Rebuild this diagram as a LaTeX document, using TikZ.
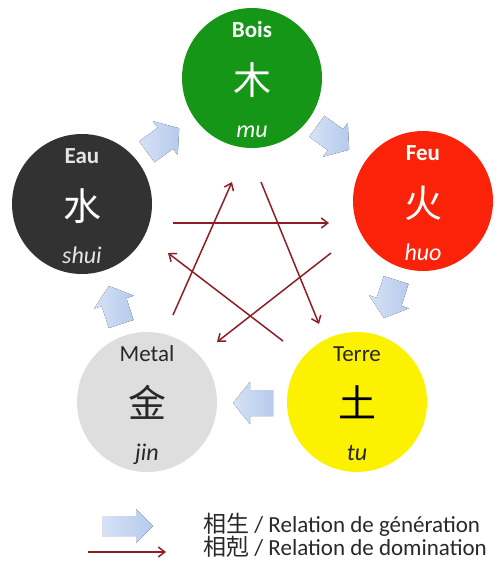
\documentclass[tikz,border=0pt]{standalone}
\usepackage{fontspec}
\setmainfont{Carlito}
\newfontfamily\cjk{Noto Sans CJK SC}
\usetikzlibrary{arrows.meta}
\definecolor{boisc}{RGB}{22,150,22}
\definecolor{feuc}{RGB}{250,35,10}
\definecolor{eauc}{RGB}{50,50,50}
\definecolor{metalc}{RGB}{222,222,222}
\definecolor{terrec}{RGB}{252,242,0}
\definecolor{domc}{RGB}{140,30,38}
\definecolor{genl}{RGB}{214,226,246}
\definecolor{gend}{RGB}{182,202,236}
\definecolor{lighttxt}{RGB}{228,228,228}
\definecolor{darktxt}{RGB}{40,40,40}
\tikzset{
  elem/.style={circle, minimum size=140pt, inner sep=0pt},
  lbl/.style={anchor=base, inner sep=0pt, font=\fontsize{23}{26}\selectfont},
  lblb/.style={lbl, font=\fontsize{23}{26}\selectfont\bfseries},
  hanzi/.style={inner sep=0pt, font=\cjk\fontsize{38}{42}\selectfont},
  pinyin/.style={anchor=base, inner sep=0pt, font=\fontsize{24}{26}\selectfont\itshape},
  dom/.style={draw=domc, line width=1.5pt, -{Straight Barb[length=6.5pt,width=10pt]}},
  gen/.style={left color=genl, right color=gend, draw=none},
  legtxt/.style={anchor=west, inner sep=0pt, text=darktxt, font=\fontsize{23}{25}\selectfont},
  genarrow/.pic={\fill[gen] (-20,-13) -- (3,-13) -- (3,-21) -- (20,0) -- (3,21) -- (3,13) -- (-20,13) -- cycle;}
}
\begin{document}
\begin{tikzpicture}[x=1pt,y=-1pt]
\useasboundingbox (0,0) rectangle (498,573);
% elements
\node[elem, fill=boisc] (bois) at (252,78) {};
\node[elem, fill=feuc] (feu) at (423,201) {};
\node[elem, fill=eauc] (eau) at (82,204) {};
\node[elem, fill=metalc] (metal) at (147,402) {};
\node[elem, fill=terrec] (terre) at (357,402) {};
% Bois
\node[lblb, text=white] (boisl) at (252,37) {Bois};
\node[hanzi, text=white] (boish) at (252,80) {木};
\node[pinyin, text=white] (boisp) at (252,137) {mu};
% Feu
\node[lblb, text=white] (feul) at (423,160) {Feu};
\node[hanzi, text=white] (feuh) at (423,203) {火};
\node[pinyin, text=white] (feup) at (423,260) {huo};
% Eau
\node[lblb, text=lighttxt] (eaul) at (82,163) {Eau};
\node[hanzi, text=white] (eauh) at (82,206) {水};
\node[pinyin, text=lighttxt] (eaup) at (82,263) {shui};
% Metal
\node[lbl, text=darktxt] (metall) at (147,361) {Metal};
\node[hanzi, text=darktxt] (metalh) at (147,402) {金};
\node[pinyin, text=darktxt] (metalp) at (147,460) {jin};
% Terre
\node[lbl, text=darktxt] (terrel) at (357,361) {Terre};
\node[hanzi, text=black] (terreh) at (357,402) {土};
\node[pinyin, text=darktxt] (terrep) at (357,460) {tu};
% generation arrows
\pic[rotate=36] (g1) at (163,140) {genarrow};
\pic[rotate=-36] (g2) at (333,138) {genarrow};
\pic[rotate=-108] (g3) at (390,299) {genarrow};
\pic[rotate=180] (g4) at (253,403) {genarrow};
\pic[rotate=108] (g5) at (115,305) {genarrow};
% domination arrows
\coordinate (d1a) at (173,223); \coordinate (d1b) at (329,223);
\coordinate (d2a) at (173,315); \coordinate (d2b) at (232,182);
\coordinate (d3a) at (261,182); \coordinate (d3b) at (319,324);
\coordinate (d4a) at (331,253); \coordinate (d4b) at (217,342);
\coordinate (d5a) at (283,341); \coordinate (d5b) at (168,253);
\draw[dom] (d1a) -- (d1b);
\draw[dom] (d2a) -- (d2b);
\draw[dom] (d3a) -- (d3b);
\draw[dom] (d4a) -- (d4b);
\draw[dom] (d5a) -- (d5b);
% legend
\fill[gen] (102,516) -- (136,516) -- (136,509) -- (153,526) -- (136,543) -- (136,536) -- (102,536) -- cycle;
\coordinate (la) at (88,552); \coordinate (lb) at (166,552);
\draw[dom] (la) -- (lb);
\node[legtxt] (leg1) at (203,525) {{\cjk 相生} / Relation de génération};
\node[legtxt] (leg2) at (203,547) {{\cjk 相剋} / Relation de domination};
\end{tikzpicture}
\end{document}
